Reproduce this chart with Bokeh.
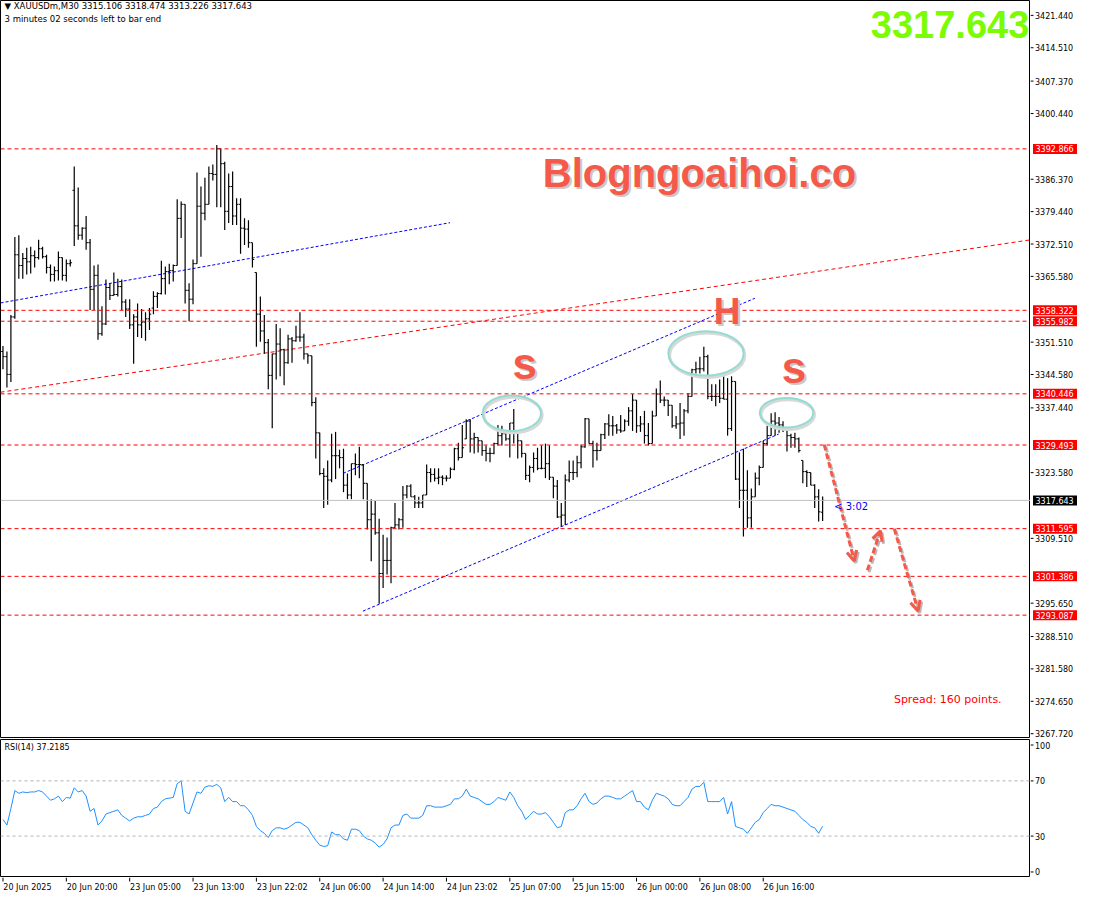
from bokeh.plotting import figure
from bokeh.layouts import column, row
from bokeh.models import (Range1d, Label, Span, Arrow, OpenHead, ColumnDataSource)
from bokeh.core.properties import value
from bokeh.embed import file_html
from bokeh.resources import INLINE

FONT = "DejaVu Sans"
BOLD_FONT = "Liberation Sans"

# ---------------- data: XAUUSDm M30 bars ----------------
opens = [
    3349.5, 3348.4, 3344.6, 3356.9, 3370.2, 3367.9, 3369.4, 3368.7, 3370.0, 3369.6,
    3371.5, 3369.8, 3367.5, 3366.0, 3366.8, 3369.6, 3365.8, 3368.3, 3384.0, 3376.4,
    3374.4, 3375.9, 3372.8, 3362.8, 3365.8, 3353.3, 3355.4, 3363.2, 3361.5, 3361.7,
    3363.4, 3360.1, 3358.6, 3355.2, 3356.9, 3355.2, 3355.8, 3356.5, 3358.8, 3361.3,
    3361.9, 3365.1, 3366.6, 3366.8, 3367.9, 3378.0, 3381.0, 3362.6, 3360.7, 3368.3,
    3380.6, 3379.1, 3381.0, 3387.6, 3387.4, 3392.9, 3389.7, 3379.5, 3384.8, 3378.5,
    3381.0, 3375.9, 3375.7, 3372.8, 3366.4, 3357.5, 3353.9, 3351.4, 3344.4, 3349.0,
    3351.1, 3349.9, 3347.1, 3352.2, 3351.8, 3352.6, 3352.6, 3349.0, 3348.6, 3338.6,
    3332.1, 3323.4, 3322.8, 3322.0, 3327.2, 3327.2, 3326.8, 3320.9, 3318.8, 3325.5,
    3325.3, 3325.3, 3321.3, 3313.5, 3314.7, 3310.7, 3302.0, 3304.8, 3304.8, 3311.8,
    3312.4, 3313.5, 3318.8, 3320.7, 3318.4, 3317.1, 3317.1, 3318.8, 3323.6, 3323.2,
    3322.4, 3322.6, 3322.4, 3322.4, 3324.3, 3328.7, 3326.8, 3330.8, 3334.6, 3330.8,
    3331.1, 3330.4, 3328.3, 3327.7, 3327.7, 3329.8, 3331.5, 3331.9, 3330.8, 3334.2,
    3332.5, 3330.4, 3327.7, 3323.0, 3324.7, 3326.6, 3324.5, 3324.5, 3325.5, 3322.6,
    3320.7, 3314.1, 3314.5, 3322.0, 3323.6, 3323.6, 3325.7, 3329.1, 3335.1, 3329.8,
    3328.3, 3328.3, 3331.7, 3334.0, 3333.6, 3333.6, 3332.7, 3332.5, 3334.6, 3336.8,
    3339.1, 3333.6, 3334.0, 3331.5, 3329.8, 3335.7, 3340.4, 3339.1, 3339.1, 3338.0,
    3333.6, 3334.0, 3334.2, 3336.8, 3339.9, 3345.6, 3345.8, 3345.8, 3348.4, 3339.9,
    3339.9, 3339.9, 3339.5, 3339.3, 3333.0, 3343.1, 3322.2, 3319.8, 3319.8, 3313.9,
    3318.4, 3322.4, 3324.7, 3329.8, 3331.5, 3334.6, 3334.2, 3333.8, 3333.2, 3331.5,
    3331.1, 3330.8, 3326.2, 3323.8, 3323.6, 3320.9, 3318.4, 3315.106,
]
highs = [
    3350.7, 3349.5, 3357.3, 3374.0, 3374.4, 3370.6, 3371.7, 3371.9, 3371.1, 3373.4,
    3371.9, 3370.2, 3368.1, 3367.7, 3370.9, 3369.6, 3369.2, 3369.2, 3389.1, 3384.6,
    3376.1, 3378.5, 3373.6, 3367.9, 3368.1, 3359.2, 3364.9, 3364.1, 3366.4, 3365.1,
    3364.9, 3360.7, 3360.7, 3357.5, 3359.8, 3358.6, 3357.9, 3358.8, 3362.4, 3362.2,
    3368.9, 3367.7, 3368.3, 3368.1, 3382.1, 3381.6, 3381.0, 3364.1, 3369.2, 3387.8,
    3384.8, 3386.7, 3389.1, 3389.5, 3393.7, 3392.9, 3390.1, 3387.6, 3388.0, 3382.3,
    3382.3, 3378.0, 3377.6, 3372.8, 3366.4, 3361.3, 3357.3, 3352.2, 3349.0, 3355.4,
    3354.5, 3350.1, 3353.1, 3352.6, 3355.0, 3357.9, 3353.3, 3349.0, 3348.6, 3339.7,
    3332.1, 3324.5, 3326.2, 3331.9, 3332.3, 3328.5, 3328.7, 3323.4, 3325.5, 3327.7,
    3329.1, 3325.3, 3321.3, 3317.9, 3317.5, 3313.7, 3310.3, 3309.7, 3312.0, 3317.1,
    3313.9, 3320.7, 3320.9, 3321.1, 3318.8, 3318.4, 3318.8, 3325.3, 3324.5, 3324.5,
    3324.5, 3323.0, 3323.0, 3324.7, 3328.9, 3330.0, 3333.8, 3335.0, 3335.0, 3332.1,
    3331.1, 3330.4, 3329.4, 3328.9, 3330.0, 3333.8, 3333.6, 3332.1, 3334.2, 3337.2,
    3332.5, 3330.4, 3327.7, 3325.1, 3327.9, 3328.9, 3329.4, 3329.8, 3329.4, 3322.6,
    3322.0, 3317.1, 3323.2, 3326.2, 3326.2, 3327.2, 3329.6, 3335.3, 3335.1, 3330.4,
    3330.0, 3331.9, 3334.2, 3336.1, 3335.7, 3334.0, 3335.9, 3335.0, 3337.6, 3340.4,
    3339.1, 3335.7, 3336.8, 3334.2, 3336.8, 3341.6, 3343.3, 3339.9, 3339.1, 3338.0,
    3335.7, 3338.5, 3337.2, 3340.6, 3345.8, 3347.3, 3348.4, 3350.5, 3348.8, 3342.5,
    3342.5, 3343.5, 3344.2, 3343.8, 3344.2, 3343.1, 3327.9, 3328.7, 3324.1, 3320.2,
    3323.6, 3325.1, 3330.4, 3333.6, 3336.3, 3336.5, 3335.5, 3334.6, 3333.2, 3331.9,
    3332.1, 3331.1, 3326.2, 3324.1, 3323.6, 3321.1, 3320.0, 3318.474,
]
lows = [
    3345.7, 3341.8, 3343.0, 3356.5, 3365.1, 3365.1, 3366.0, 3366.2, 3367.5, 3369.2,
    3369.4, 3366.2, 3364.5, 3364.5, 3364.7, 3364.7, 3364.5, 3367.7, 3372.1, 3373.4,
    3373.4, 3371.3, 3358.4, 3358.4, 3352.0, 3352.9, 3355.2, 3360.5, 3361.5, 3361.3,
    3358.4, 3356.9, 3354.3, 3346.9, 3352.6, 3352.4, 3351.8, 3354.1, 3357.5, 3358.8,
    3361.7, 3361.7, 3363.9, 3364.5, 3367.9, 3373.8, 3359.8, 3356.0, 3359.6, 3368.3,
    3369.8, 3377.6, 3381.0, 3386.1, 3380.4, 3380.4, 3375.5, 3377.0, 3376.6, 3376.6,
    3370.4, 3372.3, 3371.7, 3367.5, 3350.5, 3351.6, 3349.0, 3341.4, 3333.1, 3343.5,
    3344.2, 3342.3, 3346.9, 3347.1, 3351.6, 3351.6, 3347.8, 3346.9, 3337.8, 3326.6,
    3323.0, 3316.0, 3316.7, 3321.5, 3322.2, 3324.5, 3319.4, 3317.9, 3317.9, 3323.0,
    3322.4, 3317.9, 3311.4, 3304.6, 3310.3, 3295.5, 3298.9, 3301.8, 3299.9, 3311.8,
    3311.4, 3311.8, 3318.1, 3318.4, 3316.0, 3316.0, 3316.0, 3318.8, 3321.5, 3321.7,
    3321.1, 3320.9, 3321.7, 3322.4, 3324.1, 3326.2, 3326.8, 3330.8, 3327.9, 3327.7,
    3327.9, 3327.2, 3326.0, 3325.8, 3327.5, 3329.4, 3329.4, 3330.4, 3326.8, 3329.8,
    3326.6, 3326.8, 3322.0, 3321.5, 3323.6, 3324.1, 3324.3, 3322.4, 3322.0, 3318.1,
    3313.9, 3312.0, 3312.4, 3321.5, 3322.0, 3322.6, 3324.5, 3328.9, 3330.0, 3324.7,
    3326.2, 3328.3, 3330.8, 3331.5, 3331.5, 3331.9, 3332.1, 3332.5, 3333.6, 3332.5,
    3332.1, 3332.3, 3329.8, 3329.4, 3329.8, 3335.7, 3338.5, 3337.8, 3335.7, 3333.2,
    3333.0, 3330.8, 3331.5, 3336.3, 3339.9, 3344.8, 3344.8, 3345.2, 3339.3, 3338.9,
    3337.8, 3338.5, 3339.3, 3331.5, 3332.5, 3322.0, 3316.0, 3309.9, 3311.8, 3311.8,
    3318.4, 3320.9, 3324.7, 3329.4, 3331.5, 3331.5, 3332.1, 3332.3, 3328.1, 3328.9,
    3328.9, 3327.9, 3321.3, 3320.5, 3320.9, 3316.0, 3313.1, 3313.226,
]
closes = [
    3348.4, 3344.6, 3356.9, 3370.2, 3367.9, 3369.4, 3368.7, 3370.0, 3369.6, 3371.5,
    3369.8, 3367.5, 3366.0, 3366.8, 3369.6, 3365.8, 3368.3, 3368.5, 3376.4, 3374.4,
    3375.9, 3372.8, 3362.8, 3365.8, 3353.3, 3355.4, 3363.2, 3361.5, 3361.7, 3363.4,
    3360.1, 3358.6, 3355.2, 3356.9, 3355.2, 3355.8, 3356.5, 3357.5, 3361.3, 3361.9,
    3365.1, 3366.6, 3366.8, 3367.9, 3378.0, 3381.0, 3362.6, 3360.7, 3368.3, 3380.6,
    3379.1, 3381.0, 3387.6, 3387.4, 3392.9, 3389.7, 3379.5, 3384.8, 3378.5, 3381.0,
    3375.9, 3375.7, 3372.8, 3369.2, 3357.5, 3353.9, 3351.4, 3344.4, 3349.0, 3351.1,
    3349.9, 3347.1, 3352.2, 3351.8, 3352.6, 3352.6, 3349.0, 3348.6, 3338.6, 3332.1,
    3323.4, 3322.8, 3322.0, 3327.2, 3327.2, 3326.8, 3320.9, 3318.8, 3325.5, 3325.3,
    3325.3, 3321.3, 3313.5, 3314.7, 3310.7, 3302.0, 3304.8, 3304.8, 3311.8, 3312.4,
    3313.5, 3318.8, 3320.7, 3318.4, 3317.1, 3317.1, 3318.8, 3323.6, 3323.2, 3322.4,
    3322.6, 3322.4, 3322.4, 3324.3, 3328.7, 3326.8, 3328.9, 3334.6, 3330.8, 3331.1,
    3330.4, 3328.3, 3327.7, 3327.7, 3329.8, 3331.5, 3331.9, 3330.8, 3334.2, 3332.5,
    3330.4, 3327.7, 3323.0, 3324.7, 3326.6, 3324.5, 3324.5, 3325.5, 3322.6, 3320.7,
    3314.1, 3314.5, 3322.0, 3323.6, 3323.6, 3325.7, 3329.1, 3335.1, 3329.8, 3328.3,
    3328.3, 3331.7, 3334.0, 3333.6, 3333.6, 3332.7, 3332.5, 3334.6, 3336.8, 3339.1,
    3333.6, 3334.0, 3331.5, 3329.8, 3335.7, 3340.4, 3339.1, 3339.1, 3338.0, 3333.6,
    3334.0, 3334.2, 3336.8, 3339.9, 3345.6, 3345.8, 3345.8, 3348.4, 3339.9, 3339.9,
    3339.9, 3339.5, 3339.3, 3333.0, 3343.1, 3322.2, 3319.8, 3319.8, 3313.9, 3318.4,
    3322.4, 3324.7, 3329.8, 3331.5, 3334.6, 3334.2, 3333.8, 3333.2, 3331.5, 3331.1,
    3330.8, 3328.3, 3323.8, 3323.6, 3320.9, 3318.4, 3315.2, 3317.643,
]

# RSI(14) values, one per bar
rsi = [
    42, 38, 50, 63, 61, 62, 61.5, 62, 62, 63,
    62, 59, 56, 57, 59, 55, 58, 57.5, 65, 62,
    63, 59, 48, 50, 38, 41, 46, 47, 48, 49,
    45, 43, 41, 43, 44, 44, 45, 46, 50, 51,
    55, 57, 57.5, 58, 68, 70, 48, 46, 54, 62,
    61, 65.5, 66.5, 66, 67.5, 65, 55, 58, 55, 55,
    52, 52, 49, 45, 37, 34, 32, 29, 34, 36,
    36, 35, 36, 38, 40, 40, 38, 36, 31, 27,
    23.5, 22.5, 23, 33, 31, 31, 28, 27, 35, 35,
    34, 30, 28, 27, 25, 22, 24, 28, 36, 38,
    38, 45, 46, 43, 43, 43, 45, 52, 52, 51,
    51, 51, 52, 53, 57, 57, 59, 64, 59, 58,
    57, 55, 53, 53, 55, 58, 57, 56, 62, 58,
    52, 48, 42, 45, 48, 46, 46, 47, 44, 40,
    36, 37, 47, 49, 49, 52, 57, 61, 55, 53,
    54, 57, 59, 59, 58, 57, 57, 59, 61, 63,
    55, 55, 51, 49, 56, 61, 60, 59, 57, 53,
    52, 52, 55, 58, 64, 66, 66, 69, 55, 55,
    55, 55, 58, 46, 55, 37, 36, 35, 32, 36,
    40, 42, 47, 50, 53, 52, 52, 51, 50, 49,
    48, 45, 42, 40, 37, 36, 32, 37.2,
]

time_tick_bars = [0, 16, 32, 48, 64, 80, 96, 112, 128, 144, 160, 176, 192]
time_tick_labels = ["20 Jun 2025", "20 Jun 20:00", "23 Jun 05:00", "23 Jun 13:00",
                    "23 Jun 22:02", "24 Jun 06:00", "24 Jun 14:00", "24 Jun 23:02",
                    "25 Jun 07:00", "25 Jun 15:00", "26 Jun 00:00", "26 Jun 08:00",
                    "26 Jun 16:00"]

price_ticks = [3421.44, 3414.51, 3407.37, 3400.44, 3386.37, 3379.44, 3372.51,
               3365.58, 3351.51, 3344.58, 3337.44, 3323.58, 3309.51, 3295.65,
               3288.51, 3281.58, 3274.65, 3267.72]
level_prices = [3392.866, 3358.322, 3355.982, 3340.446, 3329.493, 3311.595,
                3301.386, 3293.087]
bid_price = 3317.643
bar_open, bar_high, bar_low, bar_close = 3315.106, 3318.474, 3313.226, 3317.643

rsi_ticks = [4, 30, 70, 96]
rsi_tick_labels = ["0", "30", "70", "100"]
rsi_levels = [30, 70]

# trend lines (bar index, price)
blue_line_x, blue_line_y = [-0.6, 112.9], [3359.9, 3377.07]
red_trend_x, red_trend_y = [-0.625, 259.5], [3340.79, 3373.4]
chan_up_x, chan_up_y = [85.9, 189.9], [3323.43, 3360.9]
chan_lo_x, chan_lo_y = [90.9, 195.9], [3293.94, 3331.83]

# pattern ellipses (left shoulder, head, right shoulder)
ell_x = [128.5, 177.55, 197.9]
ell_y = [3336.3, 3349.1, 3336.4]
ell_w = [14.75, 19.0, 13.5]
ell_h = [7.6, 9.5, 6.35]

# projected path arrows
arrow_x0 = [207.4, 218.3, 225.1]
arrow_y0 = [3329.57, 3302.68, 3311.57]
arrow_x1 = [215.0, 221.6, 231.1]
arrow_y1 = [3304.69, 3311.15, 3294.0]

rsi_title = "RSI(14) 37.2185"

# ---------------- derived ----------------
n = min(len(opens), len(highs), len(lows), len(closes))
idx = list(range(n))
hi = [max(highs[i], opens[i], closes[i]) for i in idx]
lo = [min(lows[i], opens[i], closes[i]) for i in idx]
src = ColumnDataSource(dict(
    x=idx, xl=[i - 0.45 for i in idx], xr=[i + 0.45 for i in idx],
    o=opens[:n], h=hi, l=lo, c=closes[:n]))

X0, X1 = -0.625, 259.5
P0, P1 = 3266.9, 3424.62
FW = 1030
SW = 47
MAIN_H = 737
RSI_H = 138
TIME_H = 16
CORAL = "#f4594a"
SHADOW = "#c9c9c9"


def bare(fig):
    fig.xgrid.visible = False
    fig.ygrid.visible = False
    fig.background_fill_color = "white"
    fig.border_fill_color = "white"
    return fig


# ---------------- main price panel ----------------
p = bare(figure(frame_width=FW, frame_height=MAIN_H, x_range=Range1d(X0, X1),
                y_range=Range1d(P0, P1), output_backend="svg", toolbar_location=None,
                x_axis_location=None, y_axis_location=None, min_border=0,
                min_border_bottom=2))
p.outline_line_color = "black"

for lp in level_prices:
    p.add_layout(Span(location=lp, dimension="width", line_color="#ff0000",
                      line_dash="4 3", line_width=1))
p.add_layout(Span(location=bid_price, dimension="width", line_color="#c0c0c0",
                  line_width=1))

p.line(blue_line_x, blue_line_y, line_color="#0000ff", line_dash="3 2", line_width=1)
p.line(red_trend_x, red_trend_y, line_color="#ff0000", line_dash="4 3", line_width=1)
p.line(chan_up_x, chan_up_y, line_color="#0000ff", line_dash="3 2", line_width=1)
p.line(chan_lo_x, chan_lo_y, line_color="#0000ff", line_dash="3 2", line_width=1)

p.segment(x0="x", y0="l", x1="x", y1="h", source=src, line_color="black", line_width=1.2)
p.segment(x0="xl", y0="o", x1="x", y1="o", source=src, line_color="black", line_width=1)
p.segment(x0="x", y0="c", x1="xr", y1="c", source=src, line_color="black", line_width=1)

p.ellipse(x=[v + 0.3 for v in ell_x], y=[v - 0.4 for v in ell_y], width=ell_w,
          height=ell_h, fill_color=None, line_color="#d8d8d8", line_width=3)
p.ellipse(x=ell_x, y=ell_y, width=ell_w, height=ell_h, fill_color=None,
          line_color="#92dcd2", line_width=2)

for k in range(len(arrow_x0)):
    p.add_layout(Arrow(x_start=arrow_x0[k] + 0.4, y_start=arrow_y0[k] - 0.4,
                       x_end=arrow_x1[k] + 0.4, y_end=arrow_y1[k] - 0.4,
                       line_color="#b8b8b8", line_width=3, line_dash="6 3",
                       end=OpenHead(size=10, line_color="#b8b8b8", line_width=3)))
    p.add_layout(Arrow(x_start=arrow_x0[k], y_start=arrow_y0[k],
                       x_end=arrow_x1[k], y_end=arrow_y1[k],
                       line_color=CORAL, line_width=3, line_dash="6 3",
                       end=OpenHead(size=10, line_color=CORAL, line_width=3)))


def big_text(x, y, text, size, align="center"):
    p.add_layout(Label(x=x, y=y, text=text, text_font=BOLD_FONT, text_font_style="bold",
                       text_font_size=size, text_color=SHADOW, text_align=align,
                       x_offset=2, y_offset=-2))
    p.add_layout(Label(x=x, y=y, text=text, text_font=BOLD_FONT, text_font_style="bold",
                       text_font_size=size, text_color=CORAL, text_align=align))


big_text(175.9, 3383.1, "Blogngoaihoi.co", "40px")
big_text(182.9, 3353.7, "H", "37px")
big_text(131.75, 3341.6, "s", "44px")
big_text(199.75, 3340.9, "s", "44px")

p.add_layout(Label(x=259.2, y=3416.6, text=f"{bid_price:.3f}", text_font=BOLD_FONT,
                   text_font_style="bold", text_font_size="38px", text_color="#7cfc00",
                   text_align="right"))

p.add_layout(Label(x=0.4, y=3422.4,
                   text=f"\u25bc XAUUSDm,M30  {bar_open:.3f} {bar_high:.3f} {bar_low:.3f} {bar_close:.3f}",
                   text_font=FONT, text_font_size="8.5px", text_color="black"))
p.add_layout(Label(x=0.4, y=3419.6, text="3 minutes 02 seconds left to bar end",
                   text_font=FONT, text_font_size="8.5px", text_color="black"))

p.add_layout(Label(x=209.9, y=3316.3, text="< 3:02", text_font=FONT,
                   text_font_size="10px", text_color="#0000ff", text_baseline="middle"))
p.add_layout(Label(x=225.0, y=3275.0, text="Spread: 160 points.", text_font=FONT,
                   text_font_size="11px", text_color="#ff0000", text_baseline="middle"))

# ---------------- price scale (right strip) ----------------
ps = bare(figure(frame_width=SW, frame_height=MAIN_H, x_range=Range1d(0, SW),
                 y_range=p.y_range, output_backend="svg", toolbar_location=None,
                 x_axis_location=None, y_axis_location=None, min_border=0,
                 min_border_bottom=2))
ps.outline_line_color = None
ps.segment(x0=[0] * len(price_ticks), x1=[3] * len(price_ticks), y0=price_ticks,
           y1=price_ticks, line_color="black", line_width=1)
ps.text(x=[4.5] * len(price_ticks), y=price_ticks,
        text=[f"{t:.3f}" for t in price_ticks], text_font=value(FONT),
        text_font_size="8px", text_color="black", text_baseline="middle", text_align="left")
tag_prices = level_prices + [bid_price]
tag_colors = ["#ff0000"] * len(level_prices) + ["black"]
ps.rect(x=[24.5] * len(tag_prices), y=tag_prices, width=[44] * len(tag_prices),
        height=10, height_units="screen", fill_color=tag_colors, line_color=None)
ps.text(x=[5] * len(tag_prices), y=tag_prices, text=[f"{t:.3f}" for t in tag_prices],
        text_font=value(FONT), text_font_size="8px", text_color="white",
        text_baseline="middle", text_align="left")

# ---------------- RSI panel ----------------
r = bare(figure(frame_width=FW, frame_height=RSI_H, x_range=p.x_range,
                y_range=Range1d(0, 100), output_backend="svg", toolbar_location=None,
                x_axis_location=None, y_axis_location=None, min_border=0))
r.outline_line_color = "black"
for lvl in rsi_levels:
    r.add_layout(Span(location=lvl, dimension="width", line_color="#b4b4b4",
                      line_dash="3 3", line_width=1))
r.line(list(range(len(rsi))), rsi, line_color="#1e90ff", line_width=1)
r.add_layout(Label(x=0.4, y=94.3, text=rsi_title, text_font=FONT, text_font_size="8px",
                   text_color="black", text_baseline="middle"))

rs = bare(figure(frame_width=SW, frame_height=RSI_H, x_range=Range1d(0, SW),
                 y_range=r.y_range, output_backend="svg", toolbar_location=None,
                 x_axis_location=None, y_axis_location=None, min_border=0))
rs.outline_line_color = None
rs.segment(x0=[0] * len(rsi_ticks), x1=[3] * len(rsi_ticks), y0=rsi_ticks, y1=rsi_ticks,
           line_color="black", line_width=1)
rs.text(x=[4.5] * len(rsi_ticks), y=rsi_ticks, text=rsi_tick_labels,
        text_font=value(FONT), text_font_size="8px", text_color="black",
        text_baseline="middle", text_align="left")

# ---------------- time scale (bottom strip) ----------------
t = bare(figure(frame_width=FW, frame_height=TIME_H, x_range=p.x_range,
                y_range=Range1d(0, TIME_H), output_backend="svg", toolbar_location=None,
                x_axis_location=None, y_axis_location=None, min_border=0))
t.outline_line_color = None
t.segment(x0=time_tick_bars, x1=time_tick_bars, y0=[TIME_H] * len(time_tick_bars),
          y1=[TIME_H - 4] * len(time_tick_bars), line_color="black", line_width=1)
t.text(x=[b + 0.1 for b in time_tick_bars], y=[6.5] * len(time_tick_bars),
       text=time_tick_labels, text_font=value(FONT), text_font_size="8px",
       text_color="black", text_baseline="middle", text_align="left")

layout = column(row(p, ps, spacing=0), row(r, rs, spacing=0), t, spacing=0)
open("out.html", "w").write(file_html(layout, INLINE))
